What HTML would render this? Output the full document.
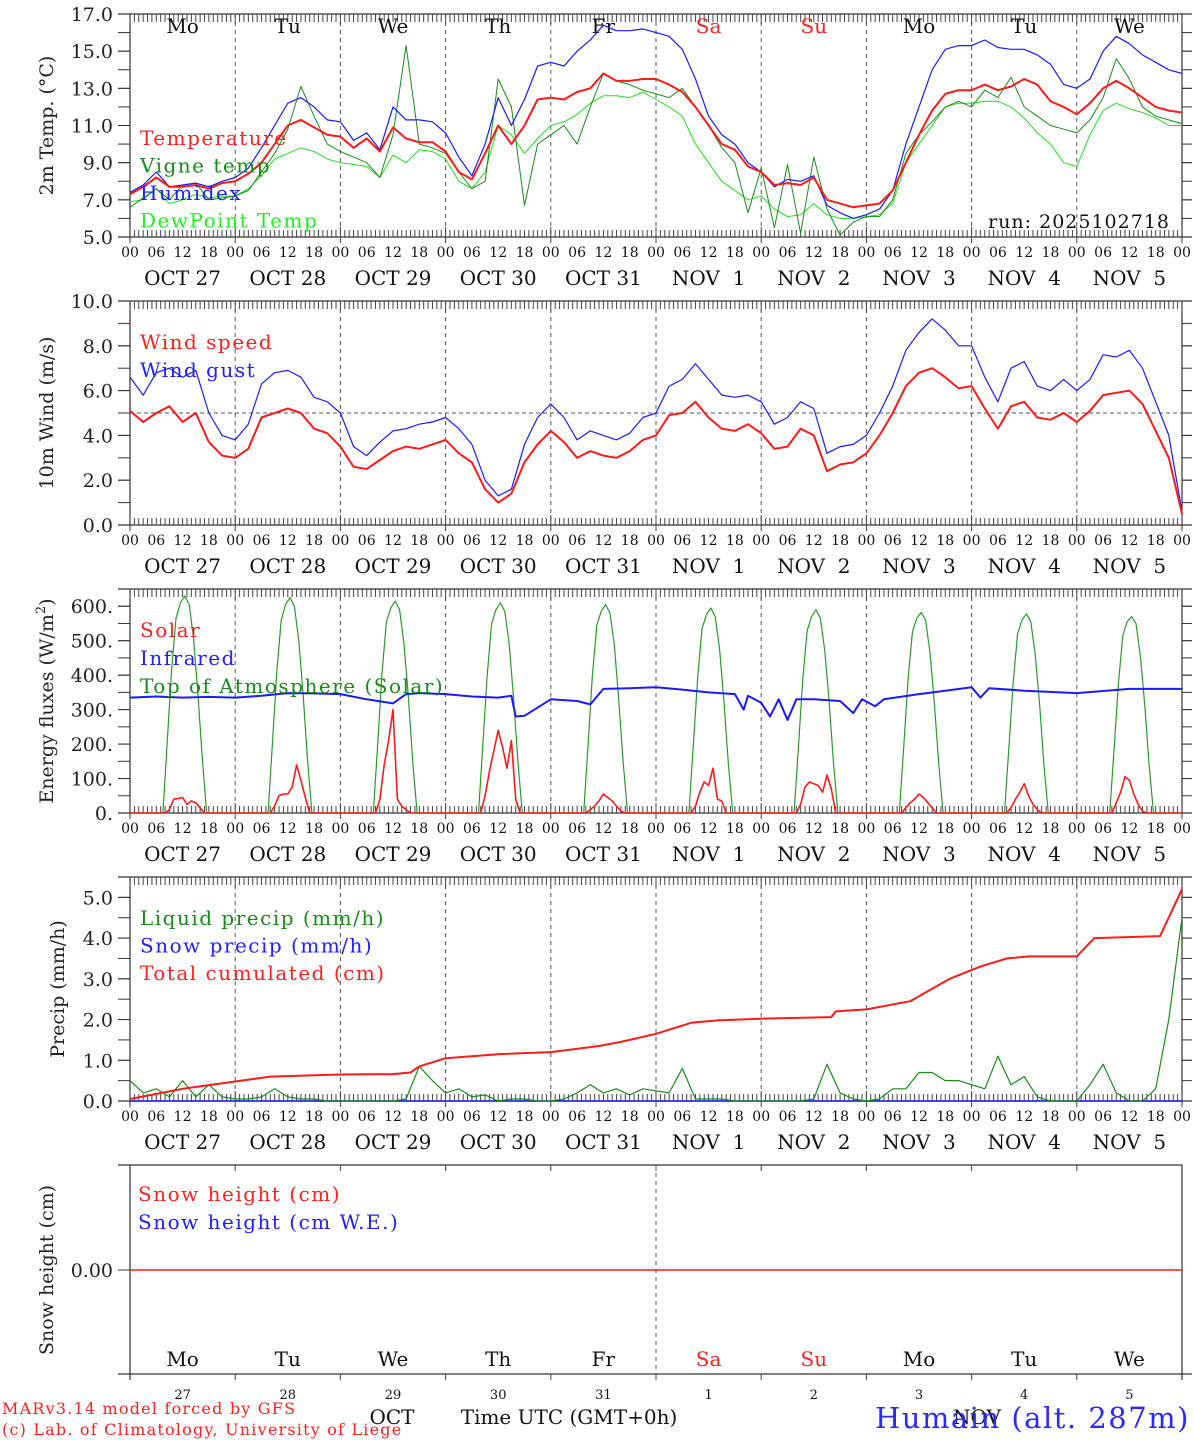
<!DOCTYPE html>
<html><head><meta charset="utf-8">
<style>
html,body{margin:0;padding:0;background:#fff;}
svg{display:block;font-family:"DejaVu Serif","Liberation Serif",serif;}
text{white-space:pre;}
</style></head>
<body>
<svg id="chart" width="1194" height="1440" viewBox="0 0 1194 1440" xmlns="http://www.w3.org/2000/svg"></svg>
<script>
// ---------- DATA ----------
const dayNames = ["Mo","Tu","We","Th","Fr","Sa","Su","Mo","Tu","We"];
const dayMonths = ["OCT","OCT","OCT","OCT","OCT","NOV","NOV","NOV","NOV","NOV"];
const dayNums = ["27","28","29","30","31","1","2","3","4","5"];
const hourLabels = ["00","06","12","18"];
const tempTicks = [5,7,9,11,13,15,17];
const windTicks = [0,2,4,6,8,10];
const fluxTicks = [0,100,200,300,400,500,600];
const precipTicks = [0,1,2,3,4,5];
// 3-hourly series, hours 0..240
const temperature = [7.3,7.7,8.2,7.7,7.7,7.8,7.6,7.9, 8.0,8.4,9.0,10.0,11.0,11.3,10.9,10.5, 10.4,9.8,10.3,9.6,10.9,10.3,10.1,10.1, 9.6,8.5,8.1,9.5,11.0,10.0,11.0,12.4, 12.5,12.4,12.8,13.0,13.8,13.4,13.4,13.5, 13.5,13.2,12.8,12.0,11.0,10.0,9.7,8.8, 8.5,7.8,7.9,7.8,8.2,7.0,6.8,6.6, 6.7,6.8,7.5,9.0,10.5,11.8,12.7,12.9, 12.9,13.2,12.9,13.1,13.5,13.2,12.3,12.0, 11.6,12.2,13.0,13.4,13.0,12.5,12.0,11.8,11.7];
const humidex = [7.4,7.8,8.5,7.7,7.8,7.9,7.7,8.0, 8.2,8.7,9.8,11.0,12.2,12.5,12.0,11.3, 11.2,10.2,10.6,9.7,12.0,11.3,11.3,11.2, 10.6,9.3,8.3,10.0,12.5,11.0,12.4,14.2, 14.4,14.2,15.0,15.6,16.4,16.1,16.1,16.2, 16.0,15.8,15.1,13.5,11.5,10.5,10.0,9.0, 8.5,7.7,8.1,8.0,8.3,6.7,6.3,6.0, 6.2,6.5,7.5,10.0,12.0,14.0,15.1,15.3, 15.3,15.6,15.2,15.1,15.1,14.8,14.3,13.2, 13.0,13.5,15.0,15.8,15.4,14.8,14.4,14.0,13.8];
const vigneTemp = [6.6,7.1,7.6,7.0,7.8,7.9,7.0,7.1, 7.2,7.5,8.5,9.5,10.8,13.1,11.5,10.0, 9.6,9.3,9.0,8.2,10.5,15.3,10.0,9.8, 9.5,8.5,7.6,8.0,13.5,12.0,6.7,10.0, 10.5,11.0,10.0,12.0,13.8,13.4,13.2,12.9, 12.7,12.5,13.0,12.0,11.0,9.8,9.0,6.3, 8.7,5.5,8.9,5.2,9.3,6.5,5.1,5.8, 6.1,6.1,7.0,9.5,10.5,11.2,12.0,12.3, 12.0,12.9,12.5,13.6,12.0,11.5,11.0,10.8, 10.6,11.3,12.5,14.6,13.5,12.0,11.5,11.3,11.1];
const dewPoint = [6.9,7.0,7.6,6.8,7.0,7.3,7.1,7.2, 7.2,7.6,8.3,9.2,9.5,9.8,9.6,9.2, 9.0,8.9,8.8,8.2,9.4,9.0,9.7,9.6, 9.2,8.0,7.6,8.5,11.0,10.5,9.5,10.3, 11.0,11.2,11.6,12.2,12.6,12.6,12.5,12.8, 12.4,12.0,11.5,10.0,9.0,8.0,7.5,7.0, 7.2,6.5,6.1,6.2,6.8,6.2,6.0,6.0, 6.1,6.2,6.8,9.0,10.0,11.0,12.0,12.2, 12.2,12.3,12.3,12.0,11.4,10.6,10.0,9.0, 8.8,10.5,11.8,12.2,11.9,11.7,11.4,11.0,11.0];
const windSpeed = [5.1,4.6,5.0,5.3,4.6,5.0,3.7,3.1, 3.0,3.4,4.8,5.0,5.2,5.0,4.3,4.1, 3.5,2.6,2.5,2.9,3.3,3.5,3.4,3.6, 3.8,3.2,2.8,1.6,1.0,1.4,2.8,3.6, 4.2,3.7,3.0,3.3,3.1,3.0,3.3,3.8, 4.0,4.9,5.0,5.5,4.8,4.3,4.2,4.5, 4.1,3.4,3.5,4.3,4.0,2.4,2.7,2.8, 3.2,4.0,5.0,6.2,6.8,7.0,6.6,6.1, 6.2,5.2,4.3,5.3,5.5,4.8,4.7,5.0, 4.6,5.1,5.8,5.9,6.0,5.4,4.2,3.0,0.5];
const windGust = [6.6,5.8,6.8,7.0,6.6,6.9,5.0,4.0, 3.8,4.5,6.3,6.8,6.9,6.6,5.7,5.5, 5.0,3.5,3.1,3.7,4.2,4.3,4.5,4.6, 4.8,4.3,3.6,2.0,1.3,1.6,3.6,4.8, 5.4,4.8,3.8,4.2,4.0,3.8,4.1,4.8, 5.0,6.2,6.5,7.2,6.5,5.8,5.7,5.8, 5.5,4.5,4.8,5.5,5.2,3.2,3.5,3.6, 4.0,5.0,6.2,7.8,8.6,9.2,8.7,8.0, 8.0,6.6,5.5,7.0,7.3,6.2,6.0,6.5, 6.0,6.5,7.6,7.5,7.8,7.0,5.5,4.0,0.6];
const liquidPrecip = [0.5,0.2,0.3,0.1,0.5,0.1,0.4,0.1, 0.05,0.05,0.1,0.3,0.1,0.05,0.05,0, 0,0,0,0,0,0.05,0.85,0.5, 0.2,0.3,0.1,0.15,0,0.05,0.05,0, 0,0.05,0.2,0.4,0.2,0.3,0.15,0.3, 0.25,0.2,0.8,0.05,0.05,0.05,0,0, 0,0,0,0,0.05,0.9,0.2,0.05, 0,0.05,0.3,0.3,0.7,0.7,0.5,0.5, 0.4,0.3,1.1,0.4,0.6,0.1,0,0, 0,0.4,0.9,0.2,0,0,0.3,2.0,4.5];
const cumHours = [0,12,24,32,48,60,64,66,69,72,84,96,107,112,120,128,134,144,160,161,168,178,187,194,200,205,216,220,235,240];
const cumPrecip = [0.05,0.3,0.48,0.6,0.65,0.66,0.7,0.85,0.95,1.05,1.15,1.2,1.35,1.45,1.65,1.92,1.98,2.02,2.06,2.2,2.25,2.45,3.0,3.3,3.5,3.55,3.55,4.0,4.05,5.2];
const irHours = [0,6,12,18,24,30,36,42,48,54,60,63,66,72,78,84,87,88,90,96,102,105,108,114,120,126,132,138,140,141,144,146,148,150,152,156,162,165,167,170,172,180,186,192,194,196,204,216,228,240];
const infrared = [335,338,335,337,335,340,348,347,345,330,318,345,348,345,338,335,340,280,282,330,325,315,360,362,365,358,350,345,300,340,320,280,330,270,330,330,325,290,330,310,330,345,355,365,335,362,355,348,360,360];
const toaOffsets = [7.5,8.5,9.5,10.5,11.5,12.5,13.5,14.5,15.5,16.5,17.5];
const toaDaily = [
 [0,210,415,565,610,630,605,505,345,160,0],
 [0,205,410,560,605,625,600,500,345,155,0],
 [0,200,405,555,595,615,590,490,340,150,0],
 [0,200,400,550,590,610,585,490,335,150,0],
 [0,200,400,545,585,605,580,485,330,150,0],
 [0,195,390,535,575,595,570,475,325,145,0],
 [0,195,390,530,570,590,565,470,325,145,0],
 [0,190,385,525,565,582,560,465,320,145,0],
 [0,190,380,520,560,578,555,460,320,140,0],
 [0,185,375,515,555,570,550,455,315,140,0]];
const solarOffsets = [7,8,9,10,11,12,13,14,15,16,17];
const solarDaily = [
 [0,0,10,40,42,45,25,35,30,15,0],
 [0,0,20,50,55,55,75,140,95,45,0],
 [0,0,40,140,210,300,40,20,10,0,0],
 [0,0,50,120,180,240,190,130,210,40,0],
 [0,0,10,20,35,55,45,35,20,5,0],
 [0,0,20,60,90,80,130,40,35,0,0],
 [0,0,25,75,90,85,80,60,110,70,0],
 [0,0,15,30,40,55,45,30,15,0,0],
 [0,0,15,40,60,85,50,25,10,0,0],
 [0,0,30,60,105,95,55,25,5,0,0]];
const snowHeight = [0,0];

// ---------- DRAWING ----------
const NS="http://www.w3.org/2000/svg";
const svg=document.getElementById('chart');
const X0=130, X1=1182;
function xs(h){return X0+h*(X1-X0)/240;}
function el(tag,attrs,parent){const e=document.createElementNS(NS,tag);for(const k in attrs)e.setAttribute(k,attrs[k]);(parent||svg).appendChild(e);return e;}
function txt(s,x,y,size,fill,anchor,parent){const t=el('text',{x:x,y:y,'font-size':size,fill:fill||'#000','text-anchor':anchor||'start'},parent);t.textContent=s;return t;}
function ln(x1,y1,x2,y2,stroke,w,parent,dash){const a={x1:x1,y1:y1,x2:x2,y2:y2,stroke:stroke,'stroke-width':w||1};if(dash)a['stroke-dasharray']=dash;return el('line',a,parent);}
function series(hours,vals,ys,color,w,name,parent){
  const pts=vals.map((v,i)=>xs(hours[i]).toFixed(1)+','+ys(v).toFixed(1)).join(' ');
  const p=el('polyline',{points:pts,fill:'none',stroke:color,'stroke-width':w,'stroke-linejoin':'round'},parent);
  
  
  return p;
}
const h3=temperature.map((_,i)=>i*3);

function panel(name,top,bot,vmin,vmax,ticks,minorStep,fmt,title,titleX,withHourTicks,withDates){
  const g=el('g',{});
  
  
  const ys=v=>bot-(v-vmin)/(vmax-vmin)*(bot-top);
  ln(118,top,1192,top,'#333',1.2,g);
  ln(118,bot,1192,bot,'#333',1.2,g);
  ln(X0,top,X0,bot+2,'#333',1.2,g);
  ln(X1,top,X1,bot+2,'#333',1.2,g);
  if(minorStep){for(let v=vmin;v<=vmax+1e-6;v+=minorStep){const y=ys(v);ln(118,y,X0,y,'#333',1,g);ln(X1,y,1192,y,'#333',1,g);}}
  ticks.forEach(v=>{const y=ys(v);ln(118,y,X0,y,'#333',1,g);ln(X1,y,1192,y,'#333',1,g);txt(fmt(v),113,y+7,19,'#222','end',g);});
  for(let d=1;d<10;d++){ln(xs(d*24),top,xs(d*24),bot,'#555',1,g,'4,4');}
  if(withHourTicks){
    for(let h=0;h<=240;h++){const x=xs(h);const big=(h%24===0);ln(x,top,x,top+(big?10:8),'#444',1,g);ln(x,bot,x,bot-(big?10:7),'#444',1,g);if(big){ln(x,bot,x,bot+6,'#444',1,g);}}
  }
  if(withDates){
    for(let d=0;d<=10;d++){for(let k=0;k<4;k++){const h=d*24+k*6;if(h>240)break;txt(hourLabels[k],xs(h),bot+20,14,'#111','middle',g);}}
    for(let d=0;d<10;d++){const lab=dayMonths[d]+(dayNums[d].length<2?'  ':' ')+dayNums[d];txt(lab,xs(d*24+12),bot+48,20,'#111','middle',g);}
  }
  const t=txt(title,0,0,19,'#222','middle',g);
  t.setAttribute('transform','translate('+titleX+','+((top+bot)/2)+') rotate(-90)');
  
  
  return {g:g,ys:ys};
}
function legend(g,items,x,y0,dy){items.forEach((it,i)=>{const t=txt(it[0],x,y0+i*dy,20,it[1],'start',g);t.setAttribute('letter-spacing','1.5');});}

const P1=panel('temperature-panel',14,237,5,17,tempTicks,1,v=>v.toFixed(1),'2m Temp. (°C)',53,true,true);
dayNames.forEach((n,d)=>{const t=txt(n,xs(d*24+12),33,20,(d===5||d===6)?'#f22':'#111','middle',P1.g);});
series(h3,dewPoint,P1.ys,'#22dd22',1,'dewpoint-line',P1.g);
series(h3,vigneTemp,P1.ys,'#1a8a1a',1,'vigne-temp-line',P1.g);
series(h3,humidex,P1.ys,'#1a1aff',1.2,'humidex-line',P1.g);
series(h3,temperature,P1.ys,'#ff1a1a',2,'temperature-line',P1.g);
legend(P1.g,[['Temperature','#ff2020','legend-temperature'],['Vigne temp','#1a8a1a','legend-vigne-temp'],['Humidex','#2020ff','legend-humidex'],['DewPoint Temp','#22ee22','legend-dewpoint']],140,145,27.5);
const rl=txt('run: 2025102718',1170,228,19,'#111','end',P1.g);
rl.setAttribute('letter-spacing','1');


const P2=panel('wind-panel',301,525,0,10,windTicks,1,v=>v.toFixed(1),'10m Wind (m/s)',53,true,true);
ln(X0,P2.ys(5),X1,P2.ys(5),'#555',1,P2.g,'4,3');
series(h3,windGust,P2.ys,'#1a1aff',1.2,'wind-gust-line',P2.g);
series(h3,windSpeed,P2.ys,'#ff1a1a',2,'wind-speed-line',P2.g);
legend(P2.g,[['Wind speed','#ff2020','legend-wind-speed'],['Wind gust','#2020ff','legend-wind-gust']],140,349,28);

const P3=panel('energy-panel',589,813,0,650,fluxTicks,50,v=>v.toFixed(0)+'.','',53,true,true);
const eT=txt('',0,0,19,'#222','middle',P3.g);
eT.setAttribute('transform','translate(53,701) rotate(-90)');
eT.innerHTML='Energy fluxes (W/m<tspan dy="-8" font-size="13">2</tspan><tspan dy="8">)</tspan>';


const toaH=[],toaV=[],solH=[],solV=[];
for(let d=0;d<10;d++){toaOffsets.forEach((o,i)=>{toaH.push(d*24+o);toaV.push(toaDaily[d][i]);});solarOffsets.forEach((o,i)=>{solH.push(d*24+o);solV.push(solarDaily[d][i]);});}
toaH.unshift(0);toaV.unshift(0);toaH.push(240);toaV.push(0);
solH.unshift(0);solV.unshift(0);solH.push(240);solV.push(0);
series(toaH,toaV,P3.ys,'#2a9a2a',1.2,'toa-solar-line',P3.g);
series(irHours,infrared,P3.ys,'#1a1aff',2,'infrared-line',P3.g);
series(solH,solV,P3.ys,'#ff1a1a',1.6,'solar-line',P3.g);
legend(P3.g,[['Solar','#ff2020','legend-solar'],['Infrared','#2020ff','legend-infrared'],['Top of Atmosphere (Solar)','#1a8a1a','legend-toa']],140,637,28);

const P4=panel('precip-panel',877,1101,0,5.5,precipTicks,0.5,v=>v.toFixed(1),'Precip (mm/h)',64,true,true);
ln(X0,1101,X1,1101,'#1a1aff',1.5,P4.g);
series(h3,liquidPrecip,P4.ys,'#1a8a1a',1.2,'liquid-precip-line',P4.g);
series(cumHours,cumPrecip,P4.ys,'#ff1a1a',2,'total-cumulated-line',P4.g);
legend(P4.g,[['Liquid precip (mm/h)','#1a8a1a','legend-liquid-precip'],['Snow precip (mm/h)','#2020ff','legend-snow-precip'],['Total cumulated (cm)','#ff2020','legend-total-cumulated']],140,925,27.5);

const g5=el('g',{});


ln(118,1165,X1,1165,'#333',1.2,g5);ln(118,1374,1192,1374,'#333',1.2,g5);
ln(X0,1165,X0,1380,'#333',1.2,g5);ln(X1,1165,X1,1380,'#333',1.2,g5);
ln(118,1270,X0,1270,'#333',1,g5);
txt('0.00',113,1277,19,'#222','end',g5);
for(let d=1;d<10;d++){ln(xs(d*24),1165,xs(d*24),1171,'#444',1,g5);ln(xs(d*24),1374,xs(d*24),1380,'#444',1,g5);}
ln(xs(120),1165,xs(120),1374,'#555',1,g5,'4,4');
const sy=v=>1270-v*100;
series([0,240],snowHeight,sy,'#ff1a1a',1.5,'snow-height-line',g5);
const st=txt('Snow height (cm)',0,0,19,'#222','middle',g5);
st.setAttribute('transform','translate(53,1270) rotate(-90)');
legend(g5,[['Snow height (cm)','#ff2020','legend-snow-height'],['Snow height (cm W.E.)','#2020ff','legend-snow-we']],138,1201,28);
dayNames.forEach((n,d)=>{txt(n,xs(d*24+12),1366,20,(d===5||d===6)?'#f22':'#111','middle',g5);txt(dayNums[d],xs(d*24+12),1399,13,'#111','middle',g5);});
txt('OCT',392,1424,20,'#111','middle',g5);
txt('Time UTC (GMT+0h)',569,1424,20,'#111','middle',g5);
txt('NOV',977,1424,20,'#111','middle',g5);
const c1=txt('MARv3.14 model forced by GFS',2,1414,16,'#ff2020','start',g5);
c1.setAttribute('letter-spacing','1.2');

const c2=txt('(c) Lab. of Climatology, University of Liege',2,1435,16,'#ff2020','start',g5);
c2.setAttribute('letter-spacing','1.2');

const stt=txt('Humain (alt. 287m)',1190,1428,29,'#2a2aff','end',g5);
stt.setAttribute('letter-spacing','1.5');

</script>
</body></html>
